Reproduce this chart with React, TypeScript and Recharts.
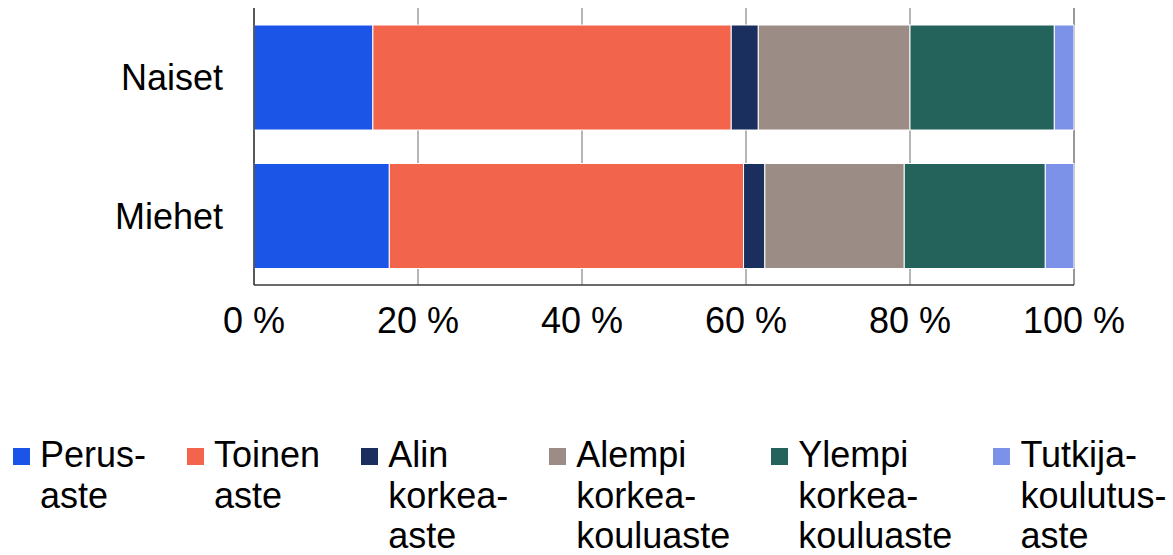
import { Bar, BarChart, CartesianGrid, XAxis, YAxis } from "recharts";

const categories = ["Naiset", "Miehet"];
const perus = [14.5, 16.5];
const toinen = [43.7, 43.2];
const alin = [3.3, 2.6];
const alempi = [18.5, 17.0];
const ylempi = [17.6, 17.2];
const tutkija = [2.4, 3.5];
const xTicks = [0, 20, 40, 60, 80, 100];

const series = [
  { key: "perus", values: perus, color: "#1a55e8", label: ["Perus-", "aste"] },
  { key: "toinen", values: toinen, color: "#f2644b", label: ["Toinen", "aste"] },
  { key: "alin", values: alin, color: "#1b2f5f", label: ["Alin", "korkea-", "aste"] },
  { key: "alempi", values: alempi, color: "#9b8c85", label: ["Alempi", "korkea-", "kouluaste"] },
  { key: "ylempi", values: ylempi, color: "#24625c", label: ["Ylempi", "korkea-", "kouluaste"] },
  { key: "tutkija", values: tutkija, color: "#7b92e8", label: ["Tutkija-", "koulutus-", "aste"] },
];

const data = categories.map((name, i) => {
  const row: Record<string, string | number> = { name };
  series.forEach((s) => (row[s.key] = s.values[i]));
  return row;
});

const FONT = "'Liberation Sans', Arial, sans-serif";

function XTick({ x, y, payload }: any) {
  return (
    <text x={x} y={y} dy={40} textAnchor="middle" fontSize={36} fontFamily={FONT} fill="#000">
      {`${payload.value} %`}
    </text>
  );
}

export default function App() {
  return (
    <div style={{ position: "absolute", left: 0, top: 0, width: 1173, height: 555, background: "#fff", fontFamily: FONT }}>
      <BarChart
        width={1173}
        height={345}
        data={data}
        layout="vertical"
        margin={{ top: 8, right: 99, left: 0, bottom: 0 }}
        barSize={105}
      >
        <CartesianGrid horizontal={false} stroke="#858585" strokeWidth={1.2} />
        <XAxis
          type="number"
          domain={[0, 100]}
          ticks={xTicks}
          height={60}
          axisLine={{ stroke: "#3a3a3a", strokeWidth: 1.5 }}
          tickLine={false}
          tick={<XTick />}
        />
        <YAxis
          type="category"
          dataKey="name"
          width={254}
          axisLine={{ stroke: "#3a3a3a", strokeWidth: 1.5 }}
          tickLine={false}
          tickMargin={25}
          tick={{ fontSize: 36, fontFamily: FONT, fill: "#000" }}
        />
        {series.map((s) => (
          <Bar
            key={s.key}
            dataKey={s.key}
            stackId="a"
            fill={s.color}
            stroke="#fff"
            strokeWidth={1}
            isAnimationActive={false}
          />
        ))}
      </BarChart>
      <div
        style={{
          position: "absolute",
          top: 435,
          left: 13,
          display: "flex",
          gap: 41,
          fontSize: 36,
          lineHeight: "40.5px",
          color: "#000",
        }}
      >
        {series.map((s) => (
          <div key={s.key} style={{ display: "flex", alignItems: "flex-start" }}>
            <div style={{ width: 17, height: 17, background: s.color, marginTop: 12.5, marginRight: 10 }} />
            <div>
              {s.label.map((l) => (
                <div key={l}>{l}</div>
              ))}
            </div>
          </div>
        ))}
      </div>
    </div>
  );
}
